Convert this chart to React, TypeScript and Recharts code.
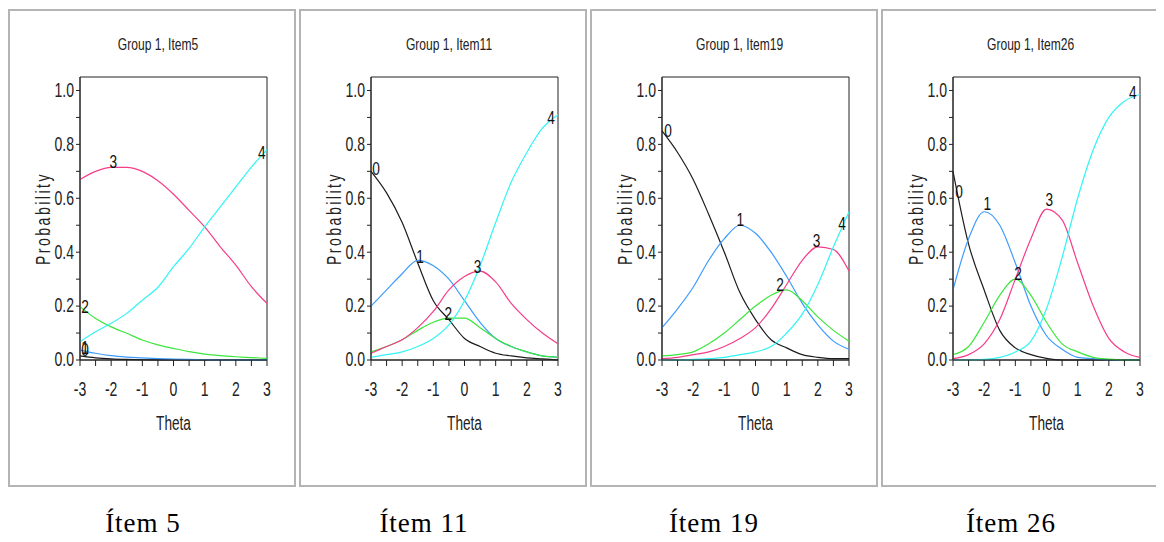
import React from 'react';
import { LineChart, Line, XAxis, YAxis, ReferenceArea, ReferenceDot, Label } from 'recharts';

// theta grid shared by all items
const theta = [-3, -2.5, -2, -1.5, -1, -0.5, 0, 0.5, 1, 1.5, 2, 2.5, 3];
const thetaTicks = [-3, -2.5, -2, -1.5, -1, -0.5, 0, 0.5, 1, 1.5, 2, 2.5, 3];
const probTicks = [0, 0.1, 0.2, 0.3, 0.4, 0.5, 0.6, 0.7, 0.8, 0.9, 1.0];

const categories = ['0', '1', '2', '3', '4'];
const categoryColors = ['#1c1c1c', '#3d9bff', '#3ce63c', '#f53d8a', '#33f4f4'];

// Item 5
const item5P0 = [0.015, 0.008, 0.004, 0.002, 0.001, 0.0005, 0, 0, 0, 0, 0, 0, 0];
const item5P1 = [0.037, 0.025, 0.016, 0.011, 0.008, 0.005, 0.003, 0.002, 0.001, 0, 0, 0, 0];
const item5P2 = [0.198, 0.154, 0.123, 0.099, 0.074, 0.056, 0.043, 0.031, 0.022, 0.016, 0.012, 0.009, 0.006];
const item5P3 = [0.67, 0.7, 0.715, 0.715, 0.7, 0.665, 0.615, 0.555, 0.494, 0.42, 0.352, 0.272, 0.21];
const item5P4 = [0.068, 0.105, 0.136, 0.173, 0.222, 0.27, 0.346, 0.414, 0.494, 0.568, 0.642, 0.716, 0.78];
const item5LabelX = [-2.84, -2.84, -2.84, -1.93, 2.83];
const item5LabelY = [0.04, 0.045, 0.196, 0.734, 0.77];

// Item 11
const item11P0 = [0.7, 0.62, 0.51, 0.36, 0.22, 0.15, 0.08, 0.05, 0.025, 0.015, 0.008, 0.004, 0];
const item11P1 = [0.2, 0.26, 0.32, 0.37, 0.35, 0.3, 0.22, 0.14, 0.08, 0.05, 0.03, 0.015, 0.01];
const item11P2 = [0.03, 0.05, 0.075, 0.11, 0.14, 0.155, 0.155, 0.12, 0.08, 0.05, 0.03, 0.015, 0.01];
const item11P3 = [0.025, 0.05, 0.075, 0.12, 0.18, 0.26, 0.31, 0.33, 0.29, 0.21, 0.15, 0.1, 0.06];
const item11P4 = [0.01, 0.02, 0.03, 0.05, 0.08, 0.13, 0.22, 0.35, 0.51, 0.66, 0.77, 0.86, 0.91];
const item11LabelX = [-2.84, -1.43, -0.52, 0.42, 2.78];
const item11LabelY = [0.71, 0.383, 0.173, 0.346, 0.9];

// Item 19
const item19P0 = [0.85, 0.77, 0.67, 0.54, 0.4, 0.25, 0.15, 0.075, 0.045, 0.02, 0.01, 0.005, 0.005];
const item19P1 = [0.12, 0.19, 0.27, 0.37, 0.45, 0.5, 0.47, 0.4, 0.31, 0.21, 0.13, 0.07, 0.04];
const item19P2 = [0.015, 0.02, 0.03, 0.06, 0.1, 0.15, 0.2, 0.24, 0.26, 0.22, 0.16, 0.11, 0.07];
const item19P3 = [0.005, 0.01, 0.02, 0.03, 0.05, 0.08, 0.12, 0.19, 0.28, 0.37, 0.42, 0.41, 0.33];
const item19P4 = [0, 0, 0.002, 0.005, 0.01, 0.02, 0.03, 0.05, 0.1, 0.17, 0.28, 0.42, 0.55];
const item19LabelX = [-2.81, -0.49, 0.79, 1.96, 2.78];
const item19LabelY = [0.85, 0.52, 0.278, 0.444, 0.506];

// Item 26
const item26P0 = [0.7, 0.43, 0.26, 0.11, 0.045, 0.02, 0.006, 0, 0, 0, 0, 0, 0];
const item26P1 = [0.26, 0.45, 0.55, 0.5, 0.36, 0.2, 0.09, 0.04, 0.01, 0.005, 0, 0, 0];
const item26P2 = [0.02, 0.05, 0.14, 0.24, 0.3, 0.24, 0.14, 0.06, 0.03, 0.01, 0.003, 0, 0];
const item26P3 = [0.005, 0.02, 0.06, 0.15, 0.3, 0.45, 0.56, 0.52, 0.36, 0.2, 0.08, 0.03, 0.01];
const item26P4 = [0, 0, 0.002, 0.01, 0.03, 0.07, 0.19, 0.38, 0.6, 0.78, 0.9, 0.96, 0.985];
const item26LabelX = [-2.81, -1.9, -0.91, 0.09, 2.77];
const item26LabelY = [0.623, 0.58, 0.319, 0.595, 0.99];

const sans = "'Liberation Sans', Arial, sans-serif";
const ink = '#222';
const squeeze = 0.72; // the original plot text is a narrow face

interface PanelProps {
  title: string;
  caption: string;
  captionCenter: number;
  series: number[][];
  labelX: number[];
  labelY: number[];
}

function XTick(props: any) {
  const { x, y, payload } = props;
  const v = payload.value;
  if (!Number.isInteger(v)) return null;
  return (
    <text
      transform={`translate(${x},${y}) scale(${squeeze},1)`}
      textAnchor="middle"
      dy="0.71em"
      fill={ink}
      fontSize={19.5}
      fontFamily={sans}
    >
      {v}
    </text>
  );
}

function YTick(props: any) {
  const { x, y, payload } = props;
  const v = payload.value;
  if (Math.round(v * 10) % 2 !== 0) return null;
  return (
    <text
      transform={`translate(${x},${y}) scale(${squeeze},1)`}
      textAnchor="end"
      dominantBaseline="central"
      fill={ink}
      fontSize={19.5}
      fontFamily={sans}
    >
      {v.toFixed(1)}
    </text>
  );
}

function renderProbability(props: any) {
  const vb = props.viewBox;
  const cx = vb.x + 33;
  const cy = vb.y + vb.height / 2;
  return (
    <text
      transform={`translate(${cx},${cy}) rotate(-90) scale(0.7,1)`}
      textAnchor="middle"
      dominantBaseline="central"
      fill={ink}
      fontSize={20}
      fontFamily={sans}
      letterSpacing={3.6}
    >
      Probability
    </text>
  );
}

function renderTheta(props: any) {
  const vb = props.viewBox;
  return (
    <text
      transform={`translate(${vb.x + vb.width / 2},${vb.y + 64}) scale(0.7,1)`}
      textAnchor="middle"
      dominantBaseline="central"
      fill={ink}
      fontSize={19.5}
      fontFamily={sans}
    >
      Theta
    </text>
  );
}

function CurveLabel(props: any) {
  const { viewBox, value } = props;
  const cx = viewBox.x + viewBox.width / 2;
  const cy = viewBox.y + viewBox.height / 2;
  return (
    <text
      transform={`translate(${cx},${cy}) scale(${squeeze},1)`}
      textAnchor="middle"
      dominantBaseline="central"
      fill="#111"
      fontSize={19}
      fontFamily={sans}
    >
      {value}
    </text>
  );
}

function Panel({ title, caption, captionCenter, series, labelX, labelY }: PanelProps) {
  const rows = theta.map((t, i) => {
    const row: Record<string, number> = { theta: t };
    series.forEach((s, k) => {
      row['p' + k] = s[i];
    });
    return row;
  });

  return (
    <div style={{ width: 288, position: 'relative' }}>
      <div
        style={{
          width: 284,
          height: 474,
          border: '2px solid #b4b4b4',
          position: 'relative',
          background: '#fff',
        }}
      >
        <div
          style={{
            position: 'absolute',
            top: 24,
            left: 0,
            width: 296,
            textAlign: 'center',
            fontFamily: sans,
            fontSize: 16.5,
            lineHeight: '19px',
            color: ink,
          }}
        >
          <span style={{ display: 'inline-block', transform: 'scaleX(0.73)' }}>{title}</span>
        </div>
        <LineChart
          width={284}
          height={474}
          data={rows}
          margin={{ top: 66, right: 27, bottom: 55, left: 0 }}
        >
          <XAxis
            dataKey="theta"
            type="number"
            domain={[-3, 3]}
            ticks={thetaTicks}
            interval={0}
            height={70}
            tickSize={6}
            tickMargin={16}
            axisLine={{ stroke: ink }}
            tickLine={{ stroke: ink }}
            tick={(p: any) => <XTick {...p} />}
          >
            <Label content={renderTheta} />
          </XAxis>
          <YAxis
            type="number"
            domain={[0, 1.05]}
            ticks={probTicks}
            interval={0}
            width={70}
            tickSize={4}
            tickMargin={2}
            axisLine={{ stroke: ink }}
            tickLine={{ stroke: ink }}
            tick={(p: any) => <YTick {...p} />}
          >
            <Label content={renderProbability} />
          </YAxis>
          <ReferenceArea x1={-3} x2={3} y1={0} y2={1.05} fill="none" stroke={ink} strokeOpacity={1} />
          {categories.map((c, k) => (
            <Line
              key={c}
              dataKey={'p' + k}
              type="monotone"
              stroke={categoryColors[k]}
              strokeWidth={1.2}
              dot={false}
              isAnimationActive={false}
            />
          ))}
          {categories.map((c, k) => (
            <ReferenceDot
              key={'lbl' + c}
              x={labelX[k]}
              y={labelY[k]}
              r={0}
              fill="none"
              stroke="none"
              label={<CurveLabel value={c} />}
            />
          ))}
        </LineChart>
      </div>
      <div
        style={{
          position: 'absolute',
          top: 501,
          left: captionCenter - 80,
          width: 160,
          textAlign: 'center',
          fontFamily: "'Liberation Serif', 'Times New Roman', serif",
          fontSize: 27,
          lineHeight: '27px',
          letterSpacing: 1,
          color: '#000',
        }}
      >
        {caption}
      </div>
    </div>
  );
}

export default function App() {
  return (
    <div style={{ display: 'flex', gap: 3, marginTop: 1, width: 1164, height: 534 }}>
      <Panel
        title="Group 1, Item5"
        caption="Ítem 5"
        captionCenter={135}
        series={[item5P0, item5P1, item5P2, item5P3, item5P4]}
        labelX={item5LabelX}
        labelY={item5LabelY}
      />
      <Panel
        title="Group 1, Item11"
        caption="Ítem 11"
        captionCenter={125}
        series={[item11P0, item11P1, item11P2, item11P3, item11P4]}
        labelX={item11LabelX}
        labelY={item11LabelY}
      />
      <Panel
        title="Group 1, Item19"
        caption="Ítem 19"
        captionCenter={124}
        series={[item19P0, item19P1, item19P2, item19P3, item19P4]}
        labelX={item19LabelX}
        labelY={item19LabelY}
      />
      <Panel
        title="Group 1, Item26"
        caption="Ítem 26"
        captionCenter={130}
        series={[item26P0, item26P1, item26P2, item26P3, item26P4]}
        labelX={item26LabelX}
        labelY={item26LabelY}
      />
    </div>
  );
}
